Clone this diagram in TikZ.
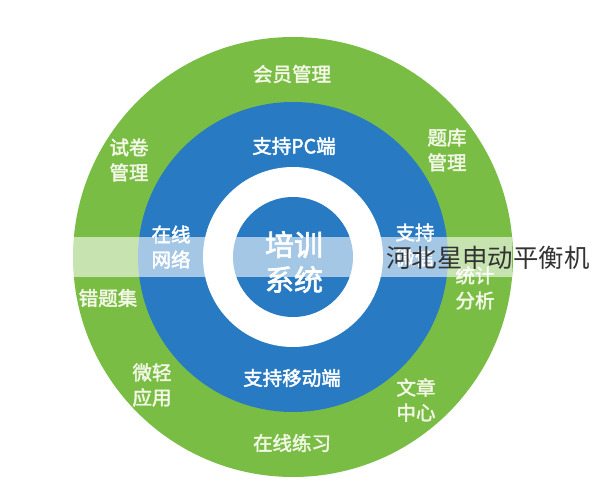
\documentclass[tikz,border=0pt]{standalone}
\usepackage{fontspec}
\setmainfont{Noto Sans CJK SC}
\newfontfamily\labfont{Noto Sans CJK SC}[AutoFakeBold=2.2]
\definecolor{ringgreen}{HTML}{7ABD45}
\definecolor{ringblue}{HTML}{287AC2}
\definecolor{cream}{HTML}{F2F7E6}
\begin{document}
\begin{tikzpicture}[x=1pt,y=-1pt,
  lab/.style={text=cream, font=\labfont\bfseries\fontsize{19.5}{25}\selectfont, align=center, inner sep=0pt},
  blab/.style={lab, text=white},
  big/.style={text=white, font=\labfont\bfseries\fontsize{29}{35}\selectfont, align=center, inner sep=0pt}]
\useasboundingbox (0,0) rectangle (592,500);
\fill[white] (0,0) rectangle (592,500);
\coordinate (c) at (293,257);
\fill[ringgreen] (c) circle[radius=220pt];
\fill[ringblue] (c) circle[radius=155pt];
\fill[white] (c) circle[radius=90pt];
\fill[ringblue] (c) circle[radius=60pt];
% labels on green ring
\node[lab] (hy) at (292,74) {会员管理};
\node[lab] (sj) at (129,160) {试卷\\管理};
\node[lab] (tk) at (447,150) {题库\\管理};
\node[lab] (ct) at (108,298) {错题集};
\node[lab] (tj) at (475,288) {统计\\分析};
\node[lab] (wq) at (152,385) {微轻\\应用};
\node[lab] (wz) at (416,400) {文章\\中心};
\node[lab] (lx) at (292,443) {在线练习};
% labels on blue ring
\node[blab] (pc) at (294,146) {支持PC端};
\node[blab] (wl) at (171,247) {在线\\网络};
\node[blab] (wx) at (415,245) {支持\\微信};
\node[blab] (yd) at (292,378) {支持移动端};
% centre
\node[big] (px) at (294,262) {培训\\系统};
% translucent band
\fill[white, opacity=0.58] (73,237) rectangle (512,277);
% overlay text
\node[anchor=west, inner sep=0pt, text=black!80, font=\fontsize{25.4}{30}\selectfont] (ov) at (386,258) {河北星申动平衡机};
\end{tikzpicture}
\end{document}
